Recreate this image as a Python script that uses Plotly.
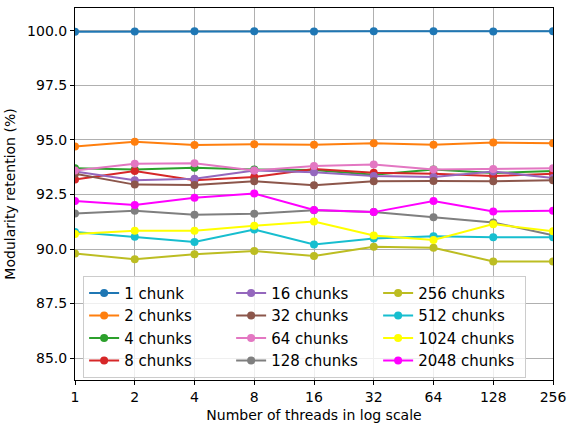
import plotly.graph_objects as go

threads = [1, 2, 4, 8, 16, 32, 64, 128, 256]
tick_labels = ["1", "2", "4", "8", "16", "32", "64", "128", "256"]

series_names = ["1 chunk", "2 chunks", "4 chunks", "8 chunks", "16 chunks", "32 chunks",
                "64 chunks", "128 chunks", "256 chunks", "512 chunks", "1024 chunks", "2048 chunks"]

chunk_1 = [99.95, 99.96, 99.97, 99.98, 99.96, 99.98, 99.97, 99.96, 99.97]
chunk_2 = [94.70, 94.91, 94.76, 94.80, 94.78, 94.85, 94.78, 94.88, 94.85]
chunk_4 = [93.70, 93.64, 93.72, 93.64, 93.62, 93.40, 93.64, 93.48, 93.57]
chunk_8 = [93.18, 93.57, 93.15, 93.30, 93.67, 93.49, 93.45, 93.34, 93.45]
chunk_16 = [93.55, 93.15, 93.22, 93.60, 93.52, 93.34, 93.30, 93.55, 93.25]
chunk_32 = [93.45, 92.95, 92.93, 93.10, 92.92, 93.10, 93.12, 93.10, 93.15]
chunk_64 = [93.60, 93.90, 93.93, 93.60, 93.80, 93.87, 93.64, 93.67, 93.70]
chunk_128 = [91.63, 91.75, 91.57, 91.61, 91.78, 91.69, 91.45, 91.22, 90.63]
chunk_256 = [89.79, 89.53, 89.76, 89.91, 89.68, 90.10, 90.06, 89.43, 89.43]
chunk_512 = [90.78, 90.56, 90.32, 90.89, 90.21, 90.48, 90.59, 90.54, 90.54]
chunk_1024 = [90.69, 90.84, 90.84, 91.07, 91.26, 90.62, 90.41, 91.14, 90.81]
chunk_2048 = [92.20, 92.02, 92.35, 92.54, 91.79, 91.69, 92.20, 91.72, 91.75]

all_series = [chunk_1, chunk_2, chunk_4, chunk_8, chunk_16, chunk_32,
              chunk_64, chunk_128, chunk_256, chunk_512, chunk_1024, chunk_2048]

colors = ["#1f77b4", "#ff7f0e", "#2ca02c", "#d62728", "#9467bd", "#8c564b",
          "#e377c2", "#7f7f7f", "#bcbd22", "#17becf", "#ffff00", "#ff00ff"]

# legend laid out in 3 columns (column-major like the original)
n_rows = 4
fig = go.Figure()
for i, (name, vals, col) in enumerate(zip(series_names, all_series, colors)):
    col_idx = i // n_rows
    row_idx = i % n_rows
    rank = row_idx * 3 + col_idx + 1
    fig.add_trace(go.Scatter(
        x=threads, y=vals, name=name, mode="lines+markers",
        line=dict(color=col, width=2),
        marker=dict(color=col, size=8),
        legendrank=rank,
    ))

font_family = "DejaVu Sans"
fig.update_layout(
    width=573, height=428,
    margin=dict(l=75, r=16, t=7, b=44),
    paper_bgcolor="white", plot_bgcolor="white",
    font=dict(family=font_family, size=14, color="black"),
    showlegend=True,
    legend=dict(
        orientation="h",
        x=0.017, y=0.006, xanchor="left", yanchor="bottom",
        bgcolor="rgba(255,255,255,0.8)",
        bordercolor="#cccccc", borderwidth=1,
        entrywidth=102, entrywidthmode="pixels",
        font=dict(family=font_family, size=15),
        traceorder="normal",
    ),
    xaxis=dict(
        type="log",
        range=[0, 2.40824],
        tickvals=threads, ticktext=tick_labels,
        showgrid=True, gridcolor="#b0b0b0", gridwidth=1,
        showline=True, linecolor="black", linewidth=1, mirror=True,
        ticks="outside", ticklen=4, tickcolor="black",
        zeroline=False,
        title=dict(text="Number of threads in log scale", standoff=6,
                   font=dict(family=font_family, size=14)),
    ),
    yaxis=dict(
        range=[84.0, 101.04],
        tickvals=[85.0, 87.5, 90.0, 92.5, 95.0, 97.5, 100.0],
        tickformat=".1f",
        showgrid=True, gridcolor="#b0b0b0", gridwidth=1,
        showline=True, linecolor="black", linewidth=1, mirror=True,
        ticks="outside", ticklen=4, tickcolor="black",
        zeroline=False,
        title=dict(text="Modularity retention (%)", standoff=8,
                   font=dict(family=font_family, size=14)),
    ),
)

fig.write_html("out.html")
